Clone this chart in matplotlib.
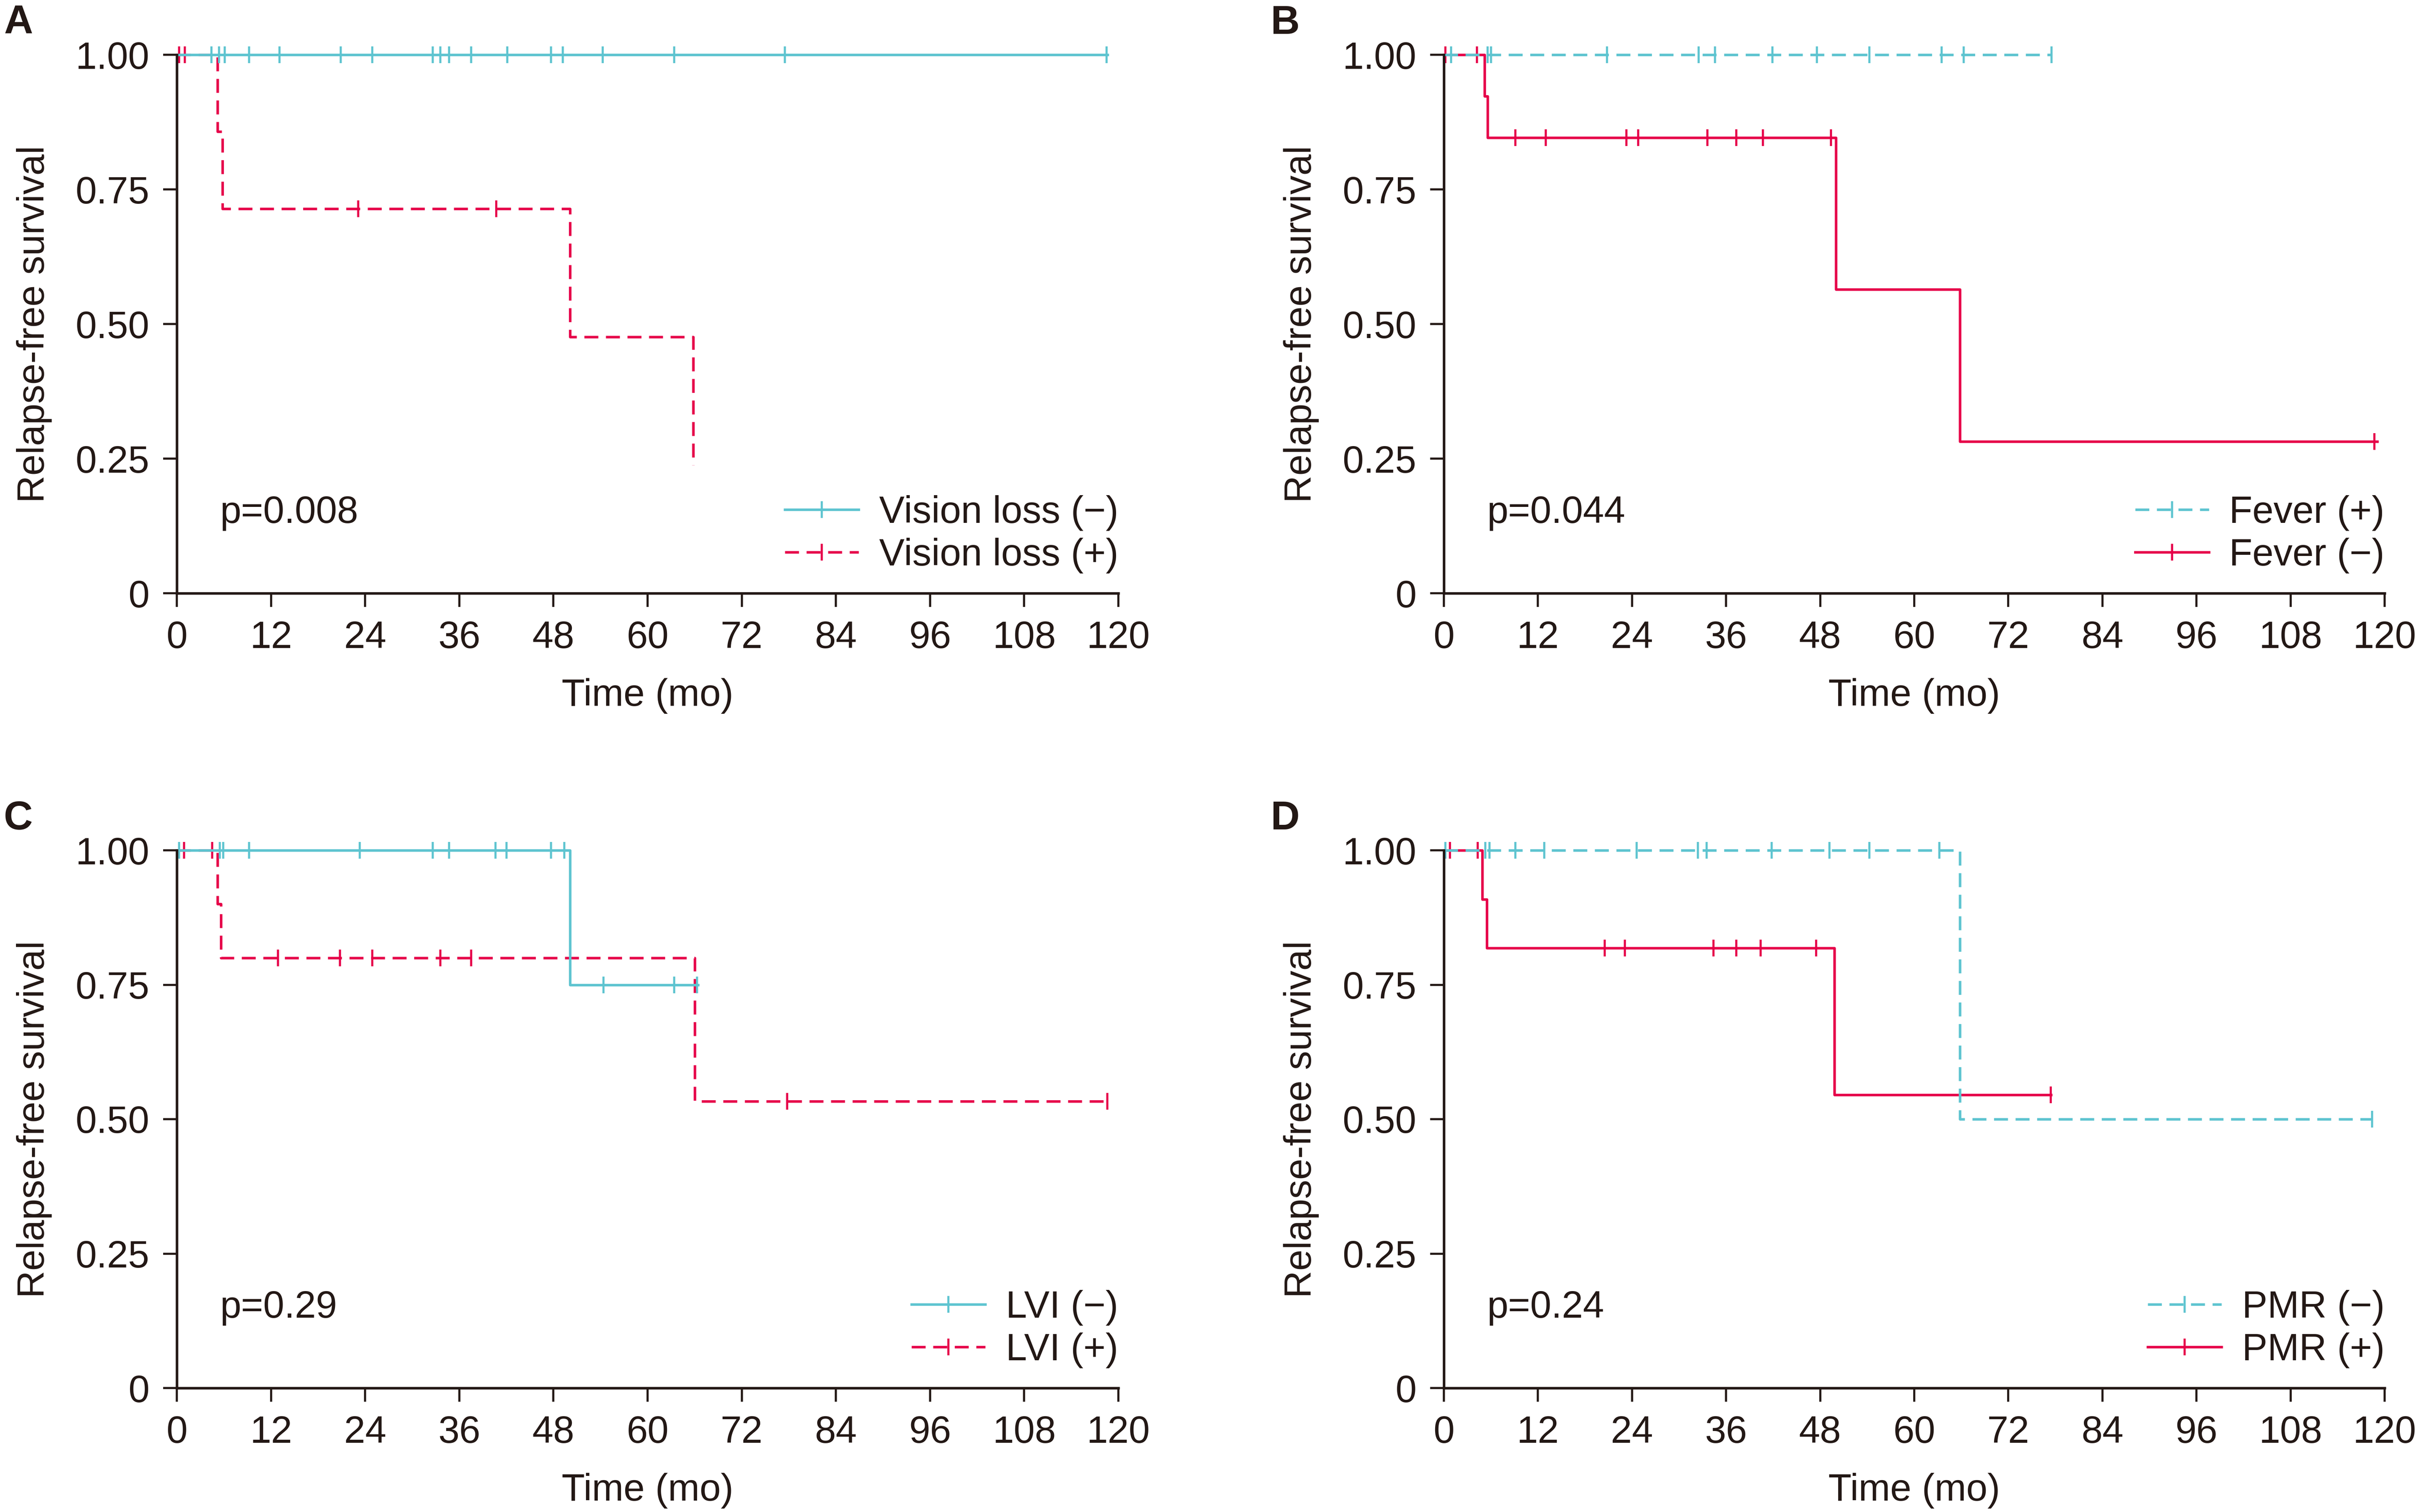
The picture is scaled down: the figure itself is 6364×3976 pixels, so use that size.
"""
Kaplan-Meier style relapse-free survival panels (A-D).
"""

import numpy as np
import matplotlib
matplotlib.use("Agg")
import matplotlib.pyplot as plt
from matplotlib.lines import Line2D

BLUE = "#5EC4D0"
RED = "#E60049"
INK = "#231815"

# ---- data (months / survival) ----
# A: vision loss
vl_neg_events_t = []
vl_neg_events_s = []
vl_neg_cens = [4.4, 5.4, 6.1, 9.2, 13.1, 20.9, 24.9, 32.6, 33.6, 34.7, 37.5,
               42.1, 47.7, 49.2, 54.3, 63.4, 77.5, 118.5]
vl_neg_end = 118.8

vl_pos_events_t = [5.2, 5.8, 50.1, 65.8]
vl_pos_events_s = [0.857, 0.714, 0.476, 0.238]
vl_pos_cens = [0.3, 1.0, 23.1, 40.7]
vl_pos_end = 65.8

# B: fever
fev_pos_events_t = []
fev_pos_events_s = []
fev_pos_cens = [0.9, 5.6, 6.0, 20.8, 32.5, 34.6, 41.9, 47.6, 54.3, 63.5, 66.3, 77.5]
fev_pos_end = 77.5

fev_neg_events_t = [5.2, 5.6, 50.0, 65.8]
fev_neg_events_s = [0.923, 0.846, 0.564, 0.282]
fev_neg_cens = [0.2, 4.2, 9.1, 13.0, 23.3, 24.8, 33.6, 37.3, 40.7, 49.4, 118.7]
fev_neg_end = 119.2

# C: LVI
lvi_neg_events_t = [50.1]
lvi_neg_events_s = [0.75]
lvi_neg_cens = [0.3, 5.5, 5.9, 9.2, 23.3, 32.6, 34.7, 40.6, 42.0, 47.7, 49.4,
                54.4, 63.4, 66.3]
lvi_neg_end = 66.6

lvi_pos_events_t = [5.2, 5.6, 66.0]
lvi_pos_events_s = [0.9, 0.8, 0.533]
lvi_pos_cens = [0.9, 4.5, 12.9, 20.8, 24.9, 33.6, 37.5, 77.8, 118.6]
lvi_pos_end = 118.6

# D: PMR
pmr_neg_events_t = [65.8]
pmr_neg_events_s = [0.5]
pmr_neg_cens = [0.2, 5.3, 5.8, 9.1, 12.8, 24.6, 32.4, 33.5, 41.8, 49.2, 54.3,
                63.2, 118.4]
pmr_neg_end = 118.4

pmr_pos_events_t = [4.9, 5.5, 49.8]
pmr_pos_events_s = [0.909, 0.818, 0.545]
pmr_pos_cens = [0.8, 4.3, 20.5, 23.1, 34.4, 37.3, 40.4, 47.5, 77.4]
pmr_pos_end = 77.6

panels = [
    ("A", "p=0.008",
     [(vl_pos_events_t, vl_pos_events_s, vl_pos_cens, vl_pos_end, RED, "--", "Vision loss (+)"),
      (vl_neg_events_t, vl_neg_events_s, vl_neg_cens, vl_neg_end, BLUE, "-", "Vision loss (\u2212)")],
     ["Vision loss (\u2212)", "Vision loss (+)"]),
    ("B", "p=0.044",
     [(fev_neg_events_t, fev_neg_events_s, fev_neg_cens, fev_neg_end, RED, "-", "Fever (\u2212)"),
      (fev_pos_events_t, fev_pos_events_s, fev_pos_cens, fev_pos_end, BLUE, "--", "Fever (+)")],
     ["Fever (+)", "Fever (\u2212)"]),
    ("C", "p=0.29",
     [(lvi_pos_events_t, lvi_pos_events_s, lvi_pos_cens, lvi_pos_end, RED, "--", "LVI (+)"),
      (lvi_neg_events_t, lvi_neg_events_s, lvi_neg_cens, lvi_neg_end, BLUE, "-", "LVI (\u2212)")],
     ["LVI (\u2212)", "LVI (+)"]),
    ("D", "p=0.24",
     [(pmr_pos_events_t, pmr_pos_events_s, pmr_pos_cens, pmr_pos_end, RED, "-", "PMR (+)"),
      (pmr_neg_events_t, pmr_neg_events_s, pmr_neg_cens, pmr_neg_end, BLUE, "--", "PMR (\u2212)")],
     ["PMR (\u2212)", "PMR (+)"]),
]

x_ticks = list(range(0, 121, 12))
y_ticks = [0, 0.25, 0.5, 0.75, 1.0]
y_ticklabels = ["0", "0.25", "0.50", "0.75", "1.00"]

plt.rcParams["font.family"] = ["Liberation Sans", "DejaVu Sans"]
plt.rcParams["font.size"] = 18
plt.rcParams["text.color"] = INK
plt.rcParams["axes.labelcolor"] = INK
plt.rcParams["xtick.color"] = INK
plt.rcParams["ytick.color"] = INK

W, H = 6364, 3976
fig = plt.figure(figsize=(W / 400, H / 400), dpi=400)

# axes boxes in pixels: left, top(y=1), right(x=120), bottom(y=0)
boxes = [(465, 144, 2941, 1560), (3797, 144, 6271, 1560),
         (465, 2236, 2941, 3650), (3797, 2236, 6271, 3650)]

LW = 1.2
DASH = (0, (5.5, 3.0))
MS = 7.9
MEW = 1.0

for (letter, ptxt, curves, order), (l, t, r, b) in zip(panels, boxes):
    ax = fig.add_axes([l / W, (H - b) / H, (r - l) / W, (b - t) / H])
    handles = {}
    for ev_t, ev_s, cens, end, col, ls, lab in curves:
        times = [0] + list(ev_t) + [end]
        surv = [1.0] + list(ev_s) + [ev_s[-1] if ev_s else 1.0]
        ax.step(times, surv, where="post", color=col, lw=LW,
                linestyle=DASH if ls == "--" else "-", clip_on=False,
                solid_capstyle="butt", dash_capstyle="butt")
        idx = np.searchsorted(np.asarray(ev_t, dtype=float), cens, side="right")
        cy = np.asarray([1.0] + list(ev_s))[idx]
        ax.plot(cens, cy, linestyle="none", marker="|", ms=MS, mew=MEW,
                color=col, clip_on=False)
        handles[lab] = Line2D([], [], color=col, lw=LW,
                              linestyle=DASH if ls == "--" else "-",
                              marker="|", ms=MS, mew=MEW)

    ax.set_xlim(0, 120)
    ax.set_ylim(0, 1)
    ax.set_xticks(x_ticks)
    ax.set_yticks(y_ticks)
    ax.set_yticklabels(y_ticklabels)
    for s in ("top", "right"):
        ax.spines[s].set_visible(False)
    for s in ("left", "bottom"):
        ax.spines[s].set_linewidth(1.2)
        ax.spines[s].set_color(INK)
    ax.tick_params(axis="both", length=6.5, width=1.0, labelsize=18)
    ax.tick_params(axis="x", pad=6.3)
    ax.tick_params(axis="y", pad=6.5)
    ax.set_xlabel("Time (mo)", fontsize=18, labelpad=10.5)
    ax.set_ylabel("Relapse-free survival", fontsize=18, labelpad=11)

    ax.text(0.046, 0.1307, ptxt, transform=ax.transAxes, ha="left",
            va="baseline", fontsize=18)

    ax.legend([handles[k] for k in order], order, loc="lower right",
              bbox_to_anchor=(1.0, 0.037), frameon=False, fontsize=18,
              borderpad=0, borderaxespad=0, handlelength=1.94,
              handletextpad=0.54, labelspacing=0.18, numpoints=1)

    fig.text((l - 455) / W, 1 - (t - 55) / H, letter, fontsize=19,
             fontweight="bold", ha="left", va="baseline")

fig.savefig("out.png", dpi=400)
